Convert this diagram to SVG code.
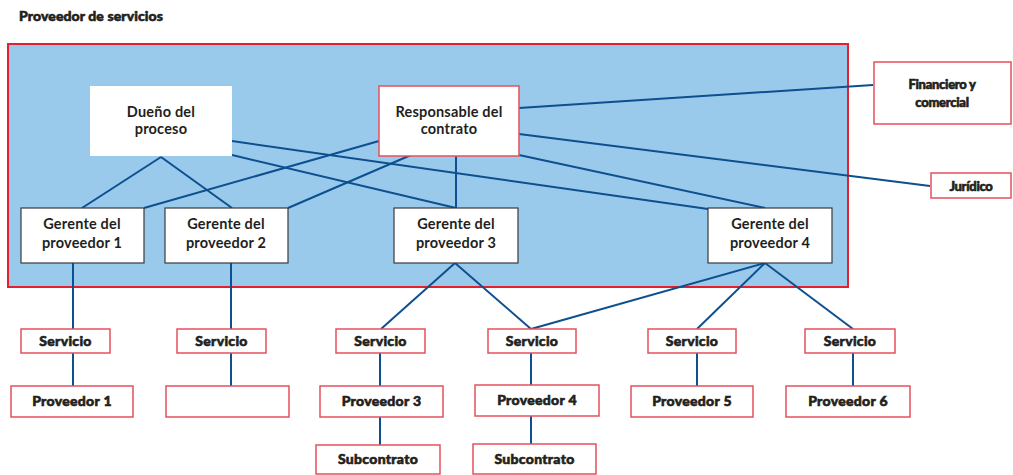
<svg xmlns="http://www.w3.org/2000/svg" width="1013" height="475" viewBox="0 0 1013 475">
<style>
.t{font-family:Lato,"Open Sans","Liberation Sans",sans-serif;fill:#231f20;text-anchor:middle}
.m{font-size:14.5px;font-weight:bold;letter-spacing:0.2px}
.h{font-size:14px;font-weight:900;letter-spacing:0.3px;stroke:#231f20;stroke-width:0.6px}
.s{font-size:13px;font-weight:900;letter-spacing:-0.3px;stroke:#231f20;stroke-width:0.6px}
.r{fill:#fff;stroke:#e5505e;stroke-width:1.5}
.g{fill:#fff;stroke:#3a3a3a;stroke-width:1.2}
.c line{stroke:#0d4f8f;stroke-width:2;fill:none}
</style>
<rect width="1013" height="475" fill="#fff"/>
<text class="t h" x="19" y="21" style="text-anchor:start;font-size:14px;letter-spacing:0.1px">Proveedor de servicios</text>
<g id="proveedor-servicios">
<rect x="8" y="44" width="840" height="243" fill="#9acaeb" stroke="#e2202e" stroke-width="2"/>
</g>
<g class="c" id="connectors">
<line x1="161" y1="157" x2="82" y2="208"/>
<line x1="161" y1="157" x2="232" y2="208"/>
<line x1="232" y1="141" x2="708" y2="209"/>
<line x1="232" y1="155" x2="456" y2="208"/>
<line x1="456" y1="156" x2="456" y2="208"/>
<line x1="411" y1="155" x2="288" y2="208"/>
<line x1="379" y1="141" x2="144" y2="208"/>
<line x1="519" y1="134" x2="930" y2="186"/>
<line x1="519" y1="155" x2="765" y2="208"/>
<line x1="519" y1="108" x2="873" y2="85"/>
<line x1="73" y1="263" x2="73" y2="386"/>
<line x1="231" y1="263" x2="231" y2="386"/>
<line x1="455" y1="263" x2="381" y2="329"/>
<line x1="455" y1="263" x2="531" y2="329"/>
<line x1="765" y1="263" x2="531" y2="329"/>
<line x1="765" y1="263" x2="697" y2="329"/>
<line x1="765" y1="263" x2="853" y2="329"/>
<line x1="380" y1="353" x2="380" y2="445"/>
<line x1="531" y1="353" x2="531" y2="444"/>
<line x1="697" y1="353" x2="697" y2="386"/>
<line x1="853" y1="353" x2="853" y2="386"/>
</g>
<g id="dueno"><rect x="90" y="86" width="142" height="70" fill="#fff"/>
<text class="t m" x="161" y="117">Dueño del</text><text class="t m" x="161" y="134">proceso</text></g>
<g id="responsable"><rect class="r" x="379" y="86" width="140" height="70"/>
<text class="t m" x="449" y="117">Responsable del</text><text class="t m" x="449" y="134">contrato</text></g>
<g id="financiero"><rect class="r" x="874" y="62" width="137" height="62"/>
<text class="t s" x="942" y="89">Financiero y</text><text class="t s" x="942" y="107">comercial</text></g>
<g id="juridico"><rect class="r" x="931" y="173" width="80" height="25"/>
<text class="t s" x="971" y="191">Jurídico</text></g>
<g id="gerente1"><rect class="g" x="21" y="208" width="123" height="55"/>
<text class="t m" x="82" y="229">Gerente del</text><text class="t m" x="82" y="248">proveedor 1</text></g>
<g id="gerente2"><rect class="g" x="165" y="208" width="123" height="55"/>
<text class="t m" x="226" y="229">Gerente del</text><text class="t m" x="226" y="248">proveedor 2</text></g>
<g id="gerente3"><rect class="g" x="394" y="208" width="124" height="55"/>
<text class="t m" x="456" y="229">Gerente del</text><text class="t m" x="456" y="248">proveedor 3</text></g>
<g id="gerente4"><rect class="g" x="708" y="208" width="124" height="55"/>
<text class="t m" x="770" y="229">Gerente del</text><text class="t m" x="770" y="248">proveedor 4</text></g>
<g id="servicio1"><rect class="r" x="21" y="329" width="89" height="24"/><text class="t h" x="65.5" y="346">Servicio</text></g>
<g id="servicio2"><rect class="r" x="177" y="329" width="89" height="24"/><text class="t h" x="221.5" y="346">Servicio</text></g>
<g id="servicio3"><rect class="r" x="336" y="329" width="89" height="24"/><text class="t h" x="380.5" y="346">Servicio</text></g>
<g id="servicio4"><rect class="r" x="488" y="329" width="88" height="24"/><text class="t h" x="532" y="346">Servicio</text></g>
<g id="servicio5"><rect class="r" x="648" y="329" width="88" height="24"/><text class="t h" x="692" y="346">Servicio</text></g>
<g id="servicio6"><rect class="r" x="805" y="329" width="90" height="24"/><text class="t h" x="850" y="346">Servicio</text></g>
<g id="proveedor1"><rect class="r" x="11" y="386" width="122" height="31"/><text class="t h" x="72" y="406">Proveedor 1</text></g>
<g id="proveedor2"><rect class="r" x="166" y="386" width="123" height="31"/></g>
<g id="proveedor3"><rect class="r" x="320" y="386" width="123" height="31"/><text class="t h" x="381.5" y="406">Proveedor 3</text></g>
<g id="proveedor4"><rect class="r" x="475" y="385" width="124" height="31"/><text class="t h" x="537" y="405">Proveedor 4</text></g>
<g id="proveedor5"><rect class="r" x="631" y="386" width="122" height="31"/><text class="t h" x="692" y="406">Proveedor 5</text></g>
<g id="proveedor6"><rect class="r" x="786" y="386" width="124" height="31"/><text class="t h" x="848" y="406">Proveedor 6</text></g>
<g id="subcontrato3"><rect class="r" x="316" y="445" width="124" height="29"/><text class="t h" x="378" y="464">Subcontrato</text></g>
<g id="subcontrato4"><rect class="r" x="473" y="444" width="123" height="30"/><text class="t h" x="534.5" y="464">Subcontrato</text></g>
</svg>
